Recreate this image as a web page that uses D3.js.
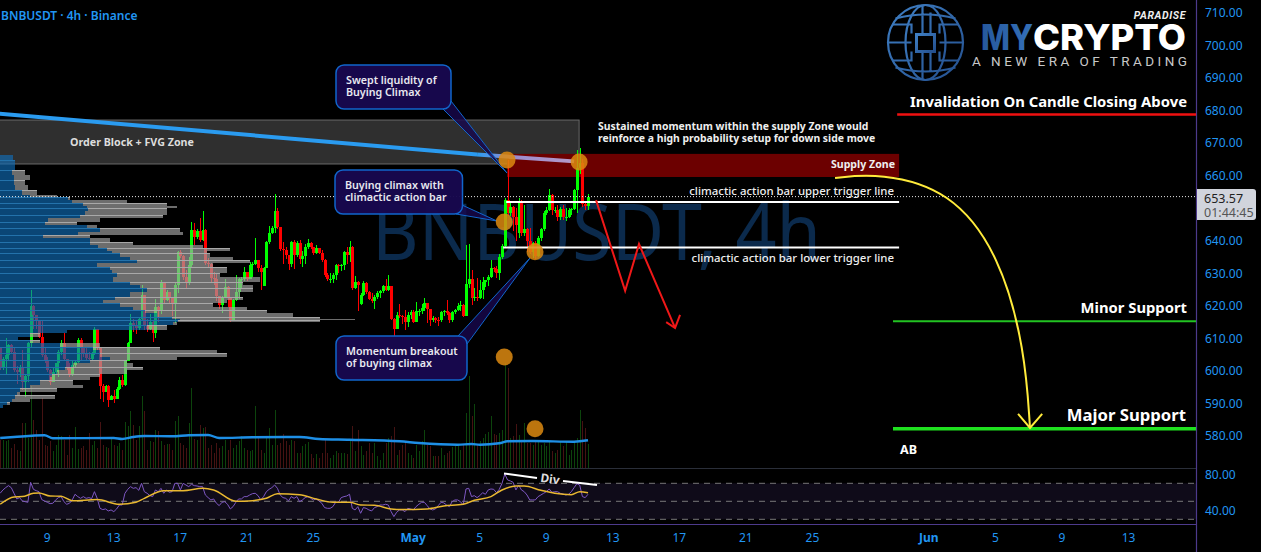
<!DOCTYPE html>
<html><head><meta charset="utf-8">
<style>html,body{margin:0;padding:0;background:#000;overflow:hidden}svg{display:block}</style>
<script src="https://cdn.jsdelivr.net/npm/d3@7"></script></head><body><div id="c"></div>
<script>
const closes=[601.3,603.8,604.9,607.9,605.9,600.3,599.7,601.3,596.7,598.4,
608.7,619.9,617.2,615.6,610.5,604.9,603.3,600.3,596.7,599.7,
602.3,605.9,608.7,603.8,600.8,598.7,601.8,602.8,609.5,606.9,
605.4,604,603.8,605.4,612.8,606.9,595.3,593.6,595.3,591,
592.2,591.5,594.3,597.2,595.6,603.1,608.5,614.8,614.1,613.1,
616,623.3,614.1,613,615,611.7,619.7,618.3,627.4,621.8,
624.3,622.3,620.7,626.4,636.4,635.4,629,626.9,632.5,643.3,
641.2,643,640.2,643.3,633.3,633,628.5,628.4,623,620.2,
622.8,625.9,622.3,615.6,621.8,624.3,628.1,628.1,630.5,628.1,
632.5,632.9,634,631.5,630.5,631.5,639.7,642.3,643.8,649.2,
644.1,637.4,637.2,635.5,633,639.7,635.6,639.2,634.3,635.3,
638.2,639.4,638,636.1,637.7,636.3,634.1,629.5,628.1,628.1,
629.6,632.5,632.2,632.4,636.6,635.6,638.2,625.4,627.4,626.5,
623.3,626.9,624.3,622.2,621.6,622.8,624.1,624.6,626,624.8,
626.1,616.1,613,617.2,616.8,616.5,615.1,617.2,618.2,615.1,
618.4,618.4,619.2,621,618.9,615.6,616.3,615.6,615.5,618.2,
618.5,617.7,615.6,618,618.7,619.9,620.2,616.9,626.6,628.1,
622.3,622.6,622.3,624.8,627.4,627.9,628.9,631.5,631.2,630,
635.1,638.4,652.5,648.4,650.5,647.4,645,652.3,642.3,643.5,
640,636.7,639.2,635.3,641,643.5,648.4,649.5,654,649.5,
649.5,647.4,649.9,647.4,647.4,649.5,649.7,655.6,662.3,663.8,
651.2,650.7,653.57];
const highs=[607.4,604.4,610,608.2,608.2,606.9,601.5,601.8,606.4,598.6,
609,624.9,620.2,617.2,612.8,615.6,606.9,604.4,600.5,601.3,
602.5,606.4,609.5,611.7,602.8,602.3,603.3,603.3,610,610,
606.9,607.4,605.9,605.9,613.5,613,606.9,596,595.6,595.6,
592.6,594,595,598,598.7,603.5,609,617.5,616,615.6,
616.3,626.5,623.3,616,617.5,615.5,622,620,628,626.5,
625,624.3,622.5,627,637,637.2,635.6,631,635,645.9,
645.5,643.5,646.9,649,643.5,634.6,633.2,630.5,630,623,
623,628.1,626,622.5,622,629.5,628.5,629,632,630.2,
633.5,633.5,640.7,634.2,632.5,632,640,644.5,644.5,654.4,
650,644.3,639.7,638.2,635.6,640,640.2,639.9,640.2,637,
639,640.4,639.7,638,638.6,637.8,637.3,634.5,630,630,
630,633,633,633,637,638.2,639.9,638.5,629.2,627.5,
624,627.5,627.4,624.5,624,623.3,624.5,625,626.5,628.4,
629.4,626.1,616.2,618,620.5,617.3,618.7,618,618.8,618.6,
621.2,619,620.5,622.5,621,619,617,616.5,616.5,618.5,
618.8,621.8,618.2,618.5,619,621,621.5,620.5,638.7,638.9,
631,625.5,628.5,628,629,628,629.5,634.1,632,632.2,
636,639,653,664.8,651.5,650.8,650,653,652.5,651,
644,644,639.7,640,641.5,644,649,650.5,656,654.5,
650.5,651,650.5,651,650,650,650,656,668,668.5,
665,652,654.5];
const lows=[600.3,600.3,598.7,603.5,605.5,599.7,596.1,598.2,594.1,592,
596.7,606.9,612.8,612.8,610,604.4,602.3,599.7,595.6,596.7,
598.7,598.2,604.9,603.3,600.3,598.2,598.4,601.3,602.5,603.5,
604.4,603.5,603.3,603.5,605,606.5,591.5,590.5,593.5,589,
591,590,591.5,594,595,595.5,603,608.5,612,611.5,
612.5,615.5,612.5,612,612.5,609,610,615,617.5,620.5,
621.5,621,617,614.6,624,634.6,628,625.5,626.5,632,
638.7,640.5,639.5,640,632.5,632,627,626.5,621.5,619,
617.7,622.5,619.5,615,615.5,621.5,622,625.5,627.5,627.5,
628.5,629,632.5,630.5,624.9,626,631.5,639,642,642.5,
643.5,637,633,634.5,631,632,631.2,635,633,632,
633,637.5,637.5,635.5,635.8,635.8,633.6,629,627.5,627,
627,628,630,630.8,631,633,633.5,625,625.2,618.5,
620.4,623,623.5,621.8,621,619,622,622.5,624,624.5,
624.5,615.5,610.3,612.9,616.3,614.4,612.5,613.5,616,614.8,
615,617,617.5,618.5,614.6,613.8,615,614.6,613.9,615,
617,617.3,614.6,615,617.5,618.4,618.5,616.5,616.9,625.5,
620.2,621.5,621.5,622,622,625.8,626,628.5,630.5,628.5,
628,634.5,638,647.5,647.5,643,640,641,641.5,641.5,
636.5,636,634.8,634.5,634.9,640,643,648,649,648,
648.5,646,646.5,646.5,646,647,648,649.5,648.5,660.5,
650.5,649.5,649.6];
const openOverrides={95:626,130:620.6,187:642.3};
const volumes=[28,28,27,28,20,24,18,17,45,45,30,82,48,38,28,70,23,22,27,17,23,33,32,28,13,33,20,41,19,20,
22,18,35,23,27,20,46,23,21,20,30,23,22,25,18,46,42,57,43,28,42,72,57,18,27,26,38,37,27,23,
24,24,18,47,52,25,23,20,45,80,29,28,43,40,41,20,23,15,25,20,22,28,18,28,20,23,27,32,20,18,
17,18,62,30,18,15,30,40,23,58,23,25,34,27,23,28,27,15,15,
22,24,26,14,10,14,10,15,28,15,10,13,17,15,15,15,14,27,42,17,
38,22,13,17,25,15,25,12,8,15,25,30,32,41,13,18,23,27,15,13,
10,23,17,27,38,23,22,12,12,12,20,13,15,17,21,22,23,18,23,55,
92,52,64,23,27,30,34,36,52,34,33,35,38,105,100,30,32,44,33,28,
45,25,25,23,28,28,23,25,22,27,17,15,18,27,22,27,13,18,27,30,
58,47,40,24];
const volMaIdx=[0,5,16,19,41,44,48,52,62,68,75,79,91,108,115,126,144,151,165,170,173,180,183,192,207,212];
const volMaVals=[30,31,32.7,29.7,30,29,31,32,31.7,32.7,33,30,30.7,31,29,28.3,26.7,25,23.3,24,23.3,24.7,26.7,27,26.3,27.7];
const rsi=[58.9,62.6,65.2,67.4,65.2,58.9,52.6,54.1,50.4,49.6,48.9,71.1,63.3,61.8,60.7,51.9,50.4,48.9,47.4,47.8,
51.5,54.1,55.2,49.6,46.7,47.8,51.5,57.8,55.2,53.3,55.2,53.3,54.1,53,60.7,53.3,42.2,40.8,41.5,39.3,
40.4,38.5,41.5,45.9,45.9,58.9,63.3,66.3,64.4,65.2,62.2,70,60.7,58.9,56.3,55.2,62.6,60.7,64.4,58.9,
62.6,60,60.7,70,70,62.6,70,68.1,66.3,68.9,67.4,67,66.3,66.3,57,54.1,51.5,52.6,47.8,45.2,
48.9,49.6,46.7,41.5,44.1,48.9,52.6,52.6,55.2,55.2,57,58.5,58.9,56.3,51.5,55.2,60.7,63.3,65.2,68.1,
64.4,57,54.1,53.3,50.4,55.2,53.3,55.2,49.6,51.5,54.1,55.2,53.3,51.5,52.6,50.4,47.8,43,42.2,42.2,
44.1,48.9,48.9,54.1,55.2,55.9,57.8,42.2,40.4,44.1,36.7,43,42.2,40.4,39.3,43,44.1,45.9,45.9,46.7,
45.9,38.5,33,37.8,40.4,40.4,38.5,42.2,41.5,40.4,44.1,46.7,48.9,48.9,45.2,41.5,40.4,41.5,45.2,48.9,
48.2,45.9,44.1,49.6,51.5,51.5,49.6,45.9,63.7,64.4,55.2,56.3,54.1,56.3,59.6,57.8,62.6,63.7,63.3,59.6,
63.3,70,80.3,73.7,72.6,71.1,62.6,68.1,62.6,60.7,57,51.5,51.5,51.5,55.2,57,58.9,60.7,63.7,60,
60.7,60.7,58.9,58.1,57,57.8,60.7,65.2,69.6,68.1,55.2,54.1,57.8];
const rsiMaIdx=[0,5,8,12,14,18,22,26,35,43,49,52,59,66,73,77,85,91,96,100,108,114,120,126,130,135,141,145,154,160,167,171,177,181,186,189,195,200,206,209,212];
const rsiMaVals=[46.7,54.8,55.2,58.9,59.3,55.9,55.6,50.7,51.9,46.7,48.9,53.3,61.8,61.8,64.4,62.6,50,50.7,53.3,58.5,57.4,52.6,48.9,48.9,45.9,45.6,41.5,40.8,41.5,44.8,46.7,51.1,55.2,62.6,67,67,62.2,58.9,57.4,60.7,59.6];
const profilePrices=[666.4,664.9,663.3,661.8,660.2,658.7,657.2,655.6,654.1,653.3,652.6,651.5,650.7,650,649,647.9,646.9,645.9,644.9,643.8,642.8,641.8,640.8,639.7,638.7,637.9,637,636.1,635.1,634.1,633.1,632,631,630,629,627.4,626.4,625.4,624.4,622.8,621.8,620.8,619.7,618.7,617.7,616.7,616.1,615.5,615.1,614.1,612.6,611.6,610.5,609.5,608.5,607.4,606.4,605.6,604.4,603.3,602.3,601.3,600.3,599.2,598.2,597.2,595.6,594.6,593.6,592.6,591.5,590.5,589.5,588.5];
const profileTotal=[13,15,15,25,30,25,28,37,57,70,127,167,177,167,167,163,100,77,97,180,183,90,110,133,203,230,207,210,233,250,213,227,227,220,260,243,253,253,240,243,227,213,247,267,293,320,355,320,177,167,67,40,18,40,100,160,217,227,177,127,133,143,127,100,90,73,83,57,20,55,30,10,3];
const profileBlue=[13,15,15,12,14,14,15,22,30,68,72,83,87,88,85,80,48,45,87,100,78,43,90,90,98,107,112,120,130,137,97,110,112,117,113,130,140,147,130,115,103,120,133,145,157,172,180,178,173,147,67,30,18,30,60,93,100,100,110,90,73,65,57,52,50,40,30,20,17,15,12,7,3];
const priceTicks=d3.range(580,711,10), rsiTicks=[40,80], rsiBands=[30,50,70];
const tickDates=["2024-04-09","2024-04-13","2024-04-17","2024-04-21","2024-04-25","2024-05-01","2024-05-05","2024-05-09","2024-05-13","2024-05-17","2024-05-21","2024-05-25","2024-06-01","2024-06-05","2024-06-09","2024-06-13"];
const tickLabels=["9","13","17","21","25","May","5","9","13","17","21","25","Jun","5","9","13"];
// annotations in [candle index, price]
const orderBlock={i0:-3,i1:208.8,top:677.1,bottom:663.6};
const supplyZone={i0:182.8,i1:324.2,top:666.7,bottom:659.6};
const trendSolid=[[-2,679.2],[172,666.5]];
const trendFaded=[[172,666.5],[207,664.4]];
const triggers=[{p:651.9,i0:182.5,i1:324.2},{p:637.9,i0:181.4,i1:324.2}];
const levels=[{p:678.8,i0:323.5,c:"#f01010",w:2.5},{p:615.3,i0:322,c:"#22c322",w:2},{p:582.2,i0:322,c:"#1fe01f",w:3.5}];
const zigzag=[[214.9,652.5],[225.4,624.6],[230.4,639],[243.4,613.2]];
const zigzagHead=[[240.2,615],[243.4,613.2],[245.2,617.2]];
const yellowCurve=[[301.1,659.3],[317.3,660.8],[342.6,655.6],[360.6,635.6],[369.6,606.4],[371.4,582.5]];
const yellowHead=[[367.1,586.8],[371.4,582.5],[375.8,586.8]];
const circles=[[182.8,664.8],[208.8,664.2],[181.8,645.8],[192.9,636.6],[181.8,604.3],[192.9,582.2]];

const W=1261,H=552,FONT='"Noto Sans",sans-serif';
const BLUE="#2196f3";
const t0=Date.UTC(2024,3,6,5);
const toT=i=>new Date(t0+i*4*3600e3);
const x=d3.scaleUtc().domain([new Date("2024-04-09"),new Date("2024-06-13")]).range([46.6,1128]);
const xi=i=>x(toT(i));
const y=d3.scaleLinear().domain([580,710]).range([436,13]);
const yVol=d3.scaleLinear().domain([0,100]).range([468,368]);
const yRsi=d3.scaleLinear().domain([30,70]).range([519.3,483.3]);
const svg=d3.select("#c").append("svg").attr("width",W).attr("height",H).attr("font-family",FONT);
svg.append("rect").attr("width",W).attr("height",H).attr("fill","#000");

// RSI pane
svg.append("rect").attr("x",0).attr("width",1196).attr("y",yRsi(70)).attr("height",yRsi(30)-yRsi(70)).attr("fill","#0f0b19");
svg.selectAll(".band").data(rsiBands).join("line").attr("x1",0).attr("x2",1196).attr("y1",d=>yRsi(d)).attr("y2",d=>yRsi(d))
 .attr("stroke","#8a8a8a").attr("stroke-dasharray","6 5").attr("opacity",.85);
svg.append("line").attr("x1",0).attr("x2",1196).attr("y1",468.5).attr("y2",468.5).attr("stroke","#2a2e39");
svg.append("line").attr("x1",0).attr("x2",1196).attr("y1",524.5).attr("y2",524.5).attr("stroke","#4d3a8c").attr("stroke-width",1.2);
svg.append("line").attr("x1",1196.5).attr("x2",1196.5).attr("y1",0).attr("y2",552).attr("stroke","#4d3a8c").attr("stroke-width",1.2);

// watermark
svg.append("text").attr("x",372).attr("y",260).attr("font-size",79).attr("textLength",449).attr("lengthAdjust","spacingAndGlyphs").attr("fill","#0b2a4c").text("BNBUSDT, 4h");

// zones
svg.append("rect").attr("x",xi(orderBlock.i0)).attr("width",xi(orderBlock.i1)-xi(orderBlock.i0)).attr("y",y(orderBlock.top)).attr("height",y(orderBlock.bottom)-y(orderBlock.top))
 .attr("fill","#2f2f2f").attr("stroke","#6a6a6a");
svg.append("rect").attr("x",xi(supplyZone.i0)).attr("width",xi(supplyZone.i1)-xi(supplyZone.i0)).attr("y",y(supplyZone.top)).attr("height",y(supplyZone.bottom)-y(supplyZone.top))
 .attr("fill","#6c0000");

// volume
const candles=closes.map((c,i)=>{const o=openOverrides[i]!==undefined?openOverrides[i]:(i?closes[i-1]:607.4);return{i,o,c,h:highs[i],l:lows[i],v:volumes[i]}});
const gV=svg.append("g").attr("shape-rendering","crispEdges");
gV.selectAll("rect").data(candles).join("rect").attr("x",d=>Math.round(xi(d.i))).attr("width",1)
 .attr("y",d=>yVol(d.v)).attr("height",d=>yVol(0)-yVol(d.v)).attr("fill",d=>d.c>=d.o?"#0c440c":"#451212");
svg.append("path").datum(volMaIdx.map((k,j)=>[k,volMaVals[j]])).attr("fill","none").attr("stroke","#1e8fe6").attr("stroke-width",2.4)
 .attr("d",d3.line().x(d=>xi(d[0])).y(d=>yVol(d[1])).curve(d3.curveMonotoneX));

// candles
const gC=svg.append("g").attr("shape-rendering","crispEdges");
const col=d=>d.c>=d.o?"#00ff00":"#ff0000";
gC.selectAll(".w").data(candles).join("rect").attr("x",d=>Math.round(xi(d.i))).attr("width",1).attr("y",d=>y(d.h)).attr("height",d=>y(d.l)-y(d.h)).attr("fill",col);
gC.selectAll(".b").data(candles).join("rect").attr("x",d=>Math.round(xi(d.i))-1).attr("width",3).attr("y",d=>y(Math.max(d.o,d.c))).attr("height",d=>Math.max(1,Math.abs(y(d.o)-y(d.c)))).attr("fill",col);

// volume profile
const rows=profileTotal.map((t,k)=>({t,b:profileBlue[k],y0:Math.round(y(profilePrices[k])),y1:Math.round(y(profilePrices[k+1]))}));
const gP=svg.append("g").attr("shape-rendering","crispEdges");
gP.selectAll(".g").data(rows).join("rect").attr("x",d=>d.b).attr("width",d=>Math.max(0,d.t-d.b)).attr("y",d=>d.y0).attr("height",d=>d.y1-d.y0)
 .attr("fill","rgba(165,165,165,.66)");
gP.selectAll(".bl").data(rows).join("rect").attr("x",0).attr("width",d=>d.b).attr("y",d=>d.y0).attr("height",d=>d.y1-d.y0)
 .attr("fill","rgba(15,110,185,.64)");
rows.forEach((r,k)=>{ if(k%2===1){
 gP.append("rect").attr("x",0).attr("width",r.b).attr("y",r.y0).attr("height",1).attr("fill","#2372ab");
 gP.append("rect").attr("x",r.b).attr("width",Math.max(0,r.t-r.b)).attr("y",r.y0).attr("height",1).attr("fill","#a8a8a8");
}});

// trend line
svg.append("path").datum(trendSolid).attr("stroke","#2a9bf0").attr("stroke-width",4).attr("fill","none").attr("d",d3.line().x(d=>xi(d[0])).y(d=>y(d[1])));
svg.append("path").datum(trendFaded).attr("stroke","url(#tf)").attr("stroke-width",4).attr("fill","none").attr("d",d3.line().x(d=>xi(d[0])).y(d=>y(d[1])));
const defs=svg.append("defs");
const tf=defs.append("linearGradient").attr("id","tf").attr("gradientUnits","userSpaceOnUse").attr("x1",xi(172)).attr("x2",xi(207)).attr("y1",0).attr("y2",0);
tf.append("stop").attr("offset",0).attr("stop-color","#2a9bf0");tf.append("stop").attr("offset",.35).attr("stop-color","#9a8ccf");tf.append("stop").attr("offset",1).attr("stop-color","#b59ac8");

// level lines
svg.selectAll(".trg").data(triggers).join("line").attr("x1",d=>xi(d.i0)).attr("x2",d=>xi(d.i1)).attr("y1",d=>y(d.p)).attr("y2",d=>y(d.p)).attr("stroke","#fff").attr("stroke-width",2);
svg.selectAll(".lvl").data(levels).join("line").attr("x1",d=>xi(d.i0)).attr("x2",1196).attr("y1",d=>y(d.p)).attr("y2",d=>y(d.p)).attr("stroke",d=>d.c).attr("stroke-width",d=>d.w);
// last price dotted
svg.append("line").attr("x1",0).attr("x2",1196).attr("y1",y(653.57)).attr("y2",y(653.57)).attr("stroke","#e8e8e8").attr("stroke-dasharray","1 2");

// arrows
const ln=d3.line().x(d=>xi(d[0])).y(d=>y(d[1]));
svg.append("path").datum(zigzag).attr("d",ln).attr("fill","none").attr("stroke","#f01818").attr("stroke-width",2);
svg.append("path").datum(zigzagHead).attr("d",ln).attr("fill","none").attr("stroke","#f01818").attr("stroke-width",2);
svg.append("path").datum(yellowCurve).attr("d",d3.line().x(d=>xi(d[0])).y(d=>y(d[1])).curve(d3.curveBasis)).attr("fill","none").attr("stroke","#ffeb3b").attr("stroke-width",2);
svg.append("path").datum(yellowHead).attr("d",ln).attr("fill","none").attr("stroke","#ffeb3b").attr("stroke-width",2);

// RSI lines
svg.append("path").datum(rsi).attr("fill","none").attr("stroke","#7e57c2").attr("stroke-width",1)
 .attr("d",d3.line().x((d,i)=>xi(i)).y(d=>yRsi(d)));
svg.append("path").datum(rsiMaIdx.map((k,j)=>[k,rsiMaVals[j]])).attr("fill","none").attr("stroke","#e9b830").attr("stroke-width",1.5)
 .attr("d",d3.line().x(d=>xi(d[0])).y(d=>yRsi(d[1])).curve(d3.curveMonotoneX));
// Div
svg.append("line").attr("x1",504).attr("y1",473.5).attr("x2",537).attr("y2",478).attr("stroke","#fff").attr("stroke-width",2);
svg.append("line").attr("x1",563).attr("y1",481).attr("x2",597).attr("y2",485).attr("stroke","#fff").attr("stroke-width",2);
svg.append("text").attr("transform","translate(550,479) rotate(8)").attr("text-anchor","middle").attr("dy","0.35em").attr("font-size",12).attr("font-weight",700).attr("fill","#ddd").text("Div");

// callouts
const callouts=[
 {x:336,y:65,w:115,h:44,lines:["Swept liquidity of","Buying Climax"],ptr:[[443,109],[507,173],[451,101]]},
 {x:335,y:170,w:127.5,h:44,lines:["Buying climax with","climactic action bar"],ptr:[[456,214],[497,221],[462,205]]},
 {x:336,y:336,w:131,h:44,lines:["Momentum breakout","of buying climax"],ptr:[[458,336],[530,258],[467,344]]}];
callouts.forEach(c=>{
 svg.append("polygon").attr("points",c.ptr.map(p=>p.join(",")).join(" ")).attr("fill","rgba(24,8,78,.8)").attr("stroke","#1166cc").attr("stroke-width",1);
 svg.append("rect").attr("x",c.x).attr("y",c.y).attr("width",c.w).attr("height",c.h).attr("rx",8).attr("fill","rgba(24,8,78,.97)").attr("stroke","#1166cc").attr("stroke-width",1.5);
 c.lines.forEach((t,k)=>svg.append("text").attr("x",c.x+10).attr("y",c.y+19+12*k).attr("font-size",10.7).attr("font-weight",600).attr("fill","#e8e8f0").text(t));
});

// circles
svg.selectAll(".cir").data(circles).join("circle").attr("cx",d=>xi(d[0])).attr("cy",d=>y(d[1])).attr("r",8.5).attr("fill","#dd8a10").attr("fill-opacity",.85);

// texts
function txt(x,y,s,size,o={}){return svg.append("text").attr("x",x).attr("y",y).attr("font-size",size).attr("font-weight",o.w||700).attr("fill",o.c||"#fff").attr("text-anchor",o.a||"start").text(s)}
txt(1,20,"BNBUSDT · 4h · Binance",12,{c:BLUE,w:600});
txt(70,146,"Order Block + FVG Zone",10.7,{c:"#ddd"});
txt(598,129.5,"Sustained momentum within the supply Zone would",10.4,{c:"#eee"});
txt(598,141.5,"reinforce a high probability setup for down side move",10.4,{c:"#eee"});
txt(895,168,"Supply Zone",10.6,{a:"end",c:"#eee"});
txt(894,195,"climactic action bar upper trigger line",11.4,{a:"end",w:500,c:"#eee"});
txt(894,262,"climactic action bar lower trigger line",11.4,{a:"end",w:500,c:"#eee"});
txt(1187,107,"Invalidation On Candle Closing Above",14.8,{a:"end"}).attr("textLength",277).attr("lengthAdjust","spacingAndGlyphs");
txt(1187,313,"Minor Support",14.8,{a:"end"});
txt(1186,421,"Major Support",16.7,{a:"end"});
txt(900,454,"AB",12.5);

// axes
const ax=d3.axisRight(y).tickValues(priceTicks).tickSize(0).tickPadding(9).tickFormat(d3.format(".2f"));
const gA=svg.append("g").attr("transform","translate(1196,0)").call(ax);
const axR=d3.axisRight(yRsi).tickValues(rsiTicks).tickSize(0).tickPadding(9).tickFormat(d3.format(".2f"));
const gR=svg.append("g").attr("transform","translate(1196,0)").call(axR);
const axT=d3.axisBottom(x).tickValues(tickDates.map(d=>new Date(d))).tickSize(0).tickPadding(8).tickFormat((d,i)=>tickLabels[i]);
const gT=svg.append("g").attr("transform","translate(0,525)").call(axT);
[gA,gR,gT].forEach(g=>{g.select(".domain").remove();g.selectAll("text").attr("fill",BLUE).attr("font-size",12).attr("font-family",FONT)});
gT.selectAll("text").attr("font-weight",(d,i)=>/[A-Z]/.test(tickLabels[i])?700:400);

// price tag
svg.append("path").attr("d","M1197 189H1253a3 3 0 0 1 3 3V217a3 3 0 0 1-3 3H1197Z").attr("fill","#d1d4dc");
txt(1204,203,"653.57",12.5,{c:"#222",w:400});
txt(1204,217,"01:44:45",12.5,{c:"#555",w:400});

// logo
const gl=defs.append("linearGradient").attr("id","gl").attr("x1",0).attr("x2",1).attr("y1",0).attr("y2",1);
gl.append("stop").attr("offset",0).attr("stop-color","#3f7fc4");gl.append("stop").attr("offset",1).attr("stop-color","#24508f");
const L=svg.append("g").attr("transform","translate(925.5,42.5)").attr("fill","none").attr("stroke","url(#gl)").attr("stroke-width",2.2);
L.append("circle").attr("r",37.5);
L.append("ellipse").attr("rx",20).attr("ry",37.5);
L.append("path").attr("d","M-37 0H-14M14 0H37M-33 -18H-14V-9M33 -18H14V-9M-33 18H-14V9M33 18H14V9M-3 -37V-9M5 -30V-9M-3 9V37M5 9V30M-30 -24Q0 -32 30 -24M-30 25Q0 33 30 25");
L.append("rect").attr("x",-9).attr("y",-8).attr("width",18).attr("height",17).attr("fill","#000").attr("stroke-width",3);
const my=defs.append("linearGradient").attr("id","my").attr("x1",0).attr("x2",1).attr("y1",0).attr("y2",0);
my.append("stop").attr("offset",0).attr("stop-color","#26589c");my.append("stop").attr("offset",1).attr("stop-color","#3470b8");
svg.append("text").attr("x",981).attr("y",50).attr("font-family","Inter,Roboto,sans-serif").attr("font-weight",800).attr("font-size",36).attr("textLength",52).attr("lengthAdjust","spacingAndGlyphs").attr("fill","url(#my)").text("MY");
svg.append("text").attr("x",1033).attr("y",50).attr("font-family","Inter,Roboto,sans-serif").attr("font-weight",800).attr("font-size",36).attr("textLength",153).attr("lengthAdjust","spacingAndGlyphs").attr("fill","#fff").text("CRYPTO");
svg.append("text").attr("x",1186).attr("y",19).attr("text-anchor","end").attr("font-family","Roboto,sans-serif").attr("font-weight",700).attr("font-style","italic").attr("font-size",10.5).attr("letter-spacing",.6).attr("fill","#eee").text("PARADISE");
svg.append("text").attr("x",972).attr("y",66).attr("font-family","Roboto,sans-serif").attr("font-size",13.5).attr("textLength",215).attr("fill","#c8c8c8").text("A NEW ERA OF TRADING");
</script></body></html>
